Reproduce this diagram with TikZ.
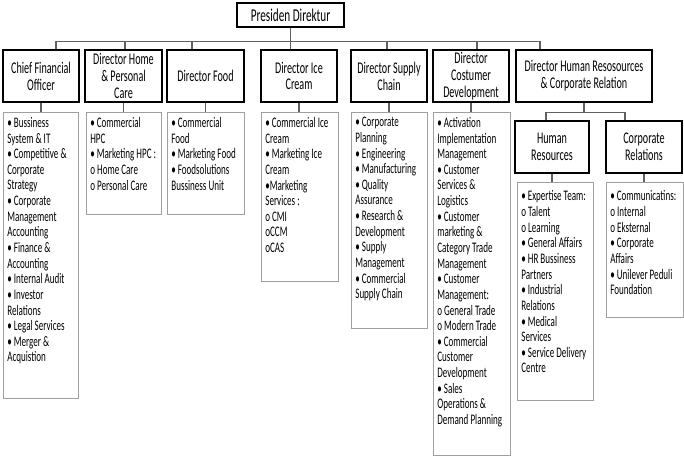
\documentclass[tikz,border=0pt]{standalone}
\usepackage{fontspec}
\setmainfont[FakeStretch=0.62]{Carlito}
\usepackage{tikz}
\usetikzlibrary{calc}

\begin{document}
\begin{tikzpicture}[x=0.02cm, y=-0.02cm,
	headbox/.style={shape=rectangle, draw=black, line width=1pt, inner sep=0pt, align=center, font=\fontsize{9.3}{9.6}\selectfont},
	listbox/.style={shape=rectangle, draw=gray!75, line width=0.6pt, anchor=north west},
	listtext/.style={anchor=north west, align=left, inner xsep=0.08cm, inner ysep=0.1cm, font=\fontsize{8.3}{8.9}\selectfont},
	link/.style={draw=gray!75!black, line width=0.6pt}]
	\useasboundingbox (0,0) rectangle (684,459);
	% Top and directors:
	\node[headbox, minimum width=2.14cm, minimum height=0.48cm, font=\fontsize{10.3}{11}\selectfont] (pres) at (290.5, 15){Presiden Direktur};
	
	\node[headbox, minimum width=1.52cm, minimum height=1.04cm] (cfo) at (41, 76){Chief Financial\\Officer};
	\node[headbox, minimum width=1.54cm, minimum height=1.04cm] (home) at (123.5, 76){Director Home\\\& Personal\\Care};
	\node[headbox, minimum width=1.54cm, minimum height=1.04cm] (food) at (205.5, 76){Director Food};
	\node[headbox, minimum width=1.52cm, minimum height=1.04cm] (ice) at (299, 76){Director Ice\\Cream};
	\node[headbox, minimum width=1.52cm, minimum height=1.04cm] (sup) at (389, 76){Director Supply\\Chain};
	\node[headbox, minimum width=1.52cm, minimum height=1.04cm] (cus) at (471, 76){Director\\Costumer\\Development};
	\node[headbox, minimum width=2.72cm, minimum height=1.04cm] (hrd) at (584, 76){Director Human Resosources\\\& Corporate Relation};
	
	\node[headbox, minimum width=1.48cm, minimum height=1.04cm] (hr) at (552, 147){Human\\Resources};
	\node[headbox, minimum width=1.52cm, minimum height=1.04cm] (cr) at (644, 147){Corporate\\Relations};
	
	% Lists:
	\node[listbox, minimum width=1.50cm, minimum height=5.72cm] (cfol) at (3, 112){};
	\node[listtext] (cfot) at (cfol.north west){• Bussiness\\System \& IT\\• Competitive \&\\Corporate\\Strategy\\• Corporate\\Management\\Accounting\\• Finance \&\\Accounting\\• Internal Audit\\• Investor\\Relations\\• Legal Services\\• Merger \&\\Acquistion};
	
	\node[listbox, minimum width=1.50cm, minimum height=2.04cm] (homel) at (86, 112){};
	\node[listtext] (homet) at (homel.north west){• Commercial\\HPC\\• Marketing HPC :\\o Home Care\\o Personal Care};
	
	\node[listbox, minimum width=1.54cm, minimum height=2.04cm] (foodl) at (167, 112){};
	\node[listtext] (foodt) at (foodl.north west){• Commercial\\Food\\• Marketing Food\\• Foodsolutions\\Bussiness Unit};
	
	\node[listbox, minimum width=1.54cm, minimum height=3.38cm] (icel) at (261, 112){};
	\node[listtext] (icet) at (icel.north west){• Commercial Ice\\Cream\\• Marketing Ice\\Cream\\•Marketing\\Services :\\o CMI\\oCCM\\oCAS};
	
	\node[listbox, minimum width=1.52cm, minimum height=4.32cm] (supl) at (351, 112){};
	\node[listtext] (supt) at (supl.north west){• Corporate\\Planning\\• Engineering\\• Manufacturing\\• Quality\\Assurance\\• Research \&\\Development\\• Supply\\Management\\• Commercial\\Supply Chain};
	
	\node[listbox, minimum width=1.54cm, minimum height=6.86cm] (cusl) at (433, 112){};
	\node[listtext] (cust) at (cusl.north west){• Activation\\Implementation\\Management\\• Customer\\Services \&\\Logistics\\• Customer\\marketing \&\\Category Trade\\Management\\• Customer\\Management:\\o General Trade\\o Modern Trade\\• Commercial\\Customer\\Development\\• Sales\\Operations \&\\Demand Planning};
	
	\node[listbox, minimum width=1.52cm, minimum height=4.36cm] (hrl) at (517, 182){};
	\node[listtext, inner ysep=0.17cm] (hrt) at (hrl.north west){• Expertise Team:\\o Talent\\o Learning\\• General Affairs\\• HR Bussiness\\Partners\\• Industrial\\Relations\\• Medical\\Services\\• Service Delivery\\Centre};
	
	\node[listbox, minimum width=1.54cm, minimum height=2.70cm] (crl) at (606, 182){};
	\node[listtext, inner ysep=0.17cm] (crt) at (crl.north west){• Communicatins:\\o Internal\\o Eksternal\\• Corporate\\Affairs\\• Unilever Peduli\\Foundation};
	
	% Connectors:
	\draw[link] (pres.south) -- ++(0, 14) -| ($(cfo.north)+(15, 0)$);
	\draw[link] (pres.south) -- ++(0, 14) -| ($(home.north)+(1.5, 0)$);
	\draw[link] (pres.south) -- ++(0, 14) -| ($(food.north)+(-13.5, 0)$);
	\draw[link] (pres.south) -- ++(0, 14) -| ($(ice.north)+(-8.5, 0)$);
	\draw[link] (pres.south) -- ++(0, 14) -| ($(sup.north)+(-2, 0)$);
	\draw[link] (pres.south) -- ++(0, 14) -| ($(cus.north)+(6, 0)$);
	\draw[link] (pres.south) -- ++(0, 14) -| ($(hrd.north)+(-44, 0)$);
	
	\draw[link] (cfo.south) -- (cfo.south |- cfol.north);
	\draw[link] (home.south) -- (home.south |- homel.north);
	\draw[link] (food.south) -- (food.south |- foodl.north);
	\draw[link] (ice.south) -- (ice.south |- icel.north);
	\draw[link] (sup.south) -- (sup.south |- supl.north);
	\draw[link] (cus.south) -- (cus.south |- cusl.north);
	
	\draw[link] (hrd.south) -- ++(0, 10) -| ($(hr.north)+(-6, 0)$);
	\draw[link] (hrd.south) -- ++(0, 10) -| ($(cr.north)+(-19, 0)$);
	\draw[link] (hr.south) -- (hr.south |- hrl.north);
	\draw[link] (cr.south) -- (cr.south |- crl.north);
\end{tikzpicture}
\end{document}
